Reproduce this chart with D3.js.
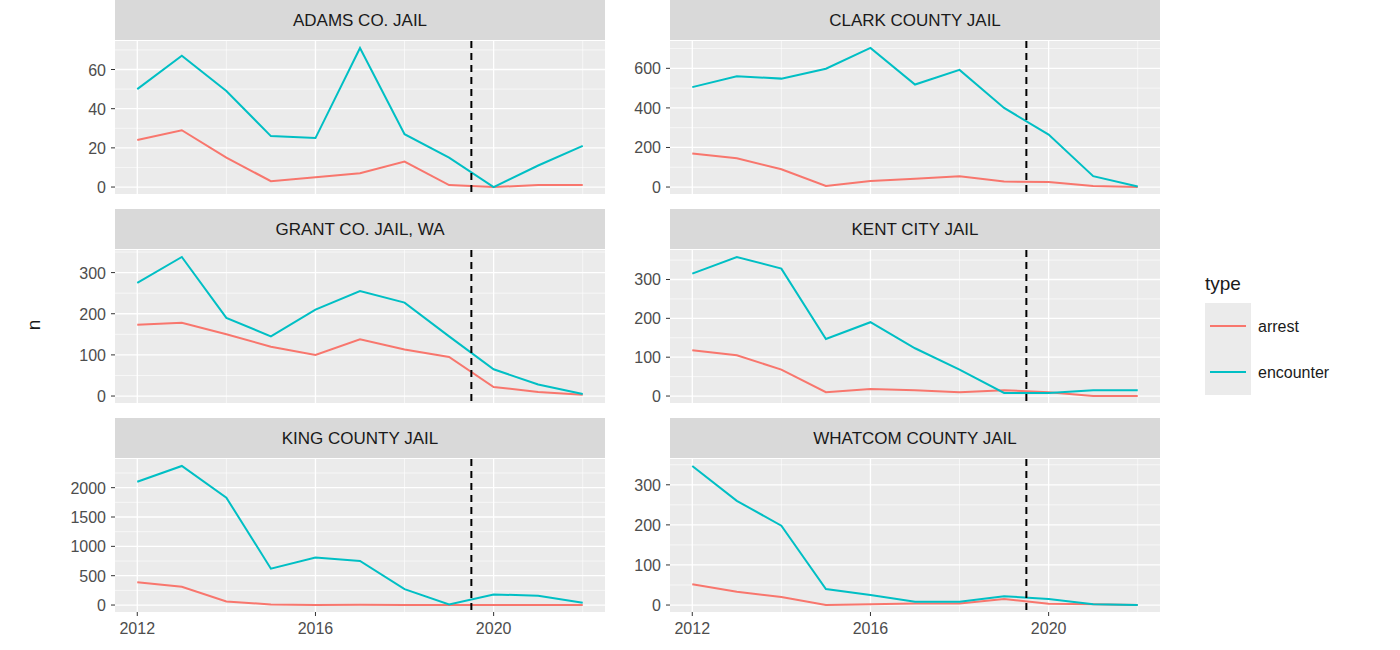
<!DOCTYPE html>
<html><head><meta charset="utf-8">
<script src="https://cdn.jsdelivr.net/npm/d3@7"></script>
<style>body{margin:0;background:#fff;font-family:"Liberation Sans",Arial,sans-serif;}</style>
</head><body><div id="chart"></div>
<script>
var years = d3.range(2012, 2023);

// values
var jails = [
  { name: "ADAMS CO. JAIL",
    encounter: [50, 67, 49, 26, 25, 71, 27, 15, 0, 11, 21],
    arrest: [24, 29, 15, 3, 5, 7, 13, 1, 0, 1, 1] },
  { name: "CLARK COUNTY JAIL",
    encounter: [505, 560, 548, 598, 703, 518, 592, 400, 265, 55, 3],
    arrest: [170, 145, 90, 5, 30, 42, 55, 28, 25, 5, 0] },
  { name: "GRANT CO. JAIL, WA",
    encounter: [275, 338, 190, 145, 210, 255, 227, 145, 65, 28, 5],
    arrest: [173, 178, 150, 120, 100, 138, 113, 95, 22, 10, 3] },
  { name: "KENT CITY JAIL",
    encounter: [315, 358, 328, 147, 190, 123, 68, 8, 8, 15, 15],
    arrest: [118, 105, 68, 10, 18, 15, 10, 15, 10, 0, 0] },
  { name: "KING COUNTY JAIL",
    encounter: [2100, 2370, 1830, 620, 810, 750, 270, 10, 180, 160, 40],
    arrest: [390, 310, 60, 10, 0, 5, 0, 0, 0, 0, 0] },
  { name: "WHATCOM COUNTY JAIL",
    encounter: [347, 260, 198, 40, 25, 8, 8, 22, 15, 2, 0],
    arrest: [52, 33, 20, 0, 2, 4, 4, 15, 3, 2, 0] }
];

var colors = { arrest: "#F8766D", encounter: "#00BFC4" };
var colX = [115, 670], panelW = 490;
var rowTop = [0, 209, 418], stripH = 40, panelH = 153;

var svg = d3.select("#chart").append("svg").attr("width", 1400).attr("height", 650);

jails.forEach(function (j, i) {
  var col = i % 2, row = Math.floor(i / 2);
  var x0 = colX[col], top = rowTop[row];
  var g = svg.append("g").attr("transform", "translate(" + x0 + "," + (top + stripH + 1) + ")");

  // strip
  svg.append("rect").attr("x", x0).attr("y", top).attr("width", panelW).attr("height", stripH).attr("fill", "#d9d9d9");
  svg.append("text").attr("x", x0 + panelW / 2).attr("y", top + stripH / 2 + 6)
    .attr("text-anchor", "middle").attr("font-size", 17).attr("fill", "#1a1a1a").text(j.name);

  var x = d3.scaleLinear().domain([2011.5, 2022.5]).range([0, panelW]);
  var ymax = d3.max(j.encounter.concat(j.arrest));
  var y = d3.scaleLinear().domain([-ymax * 0.05, ymax * 1.05]).range([panelH, 0]);

  g.append("rect").attr("width", panelW).attr("height", panelH).attr("fill", "#ebebeb");

  var yt = y.ticks(4).filter(function (t) { return t >= 0; });
  var step = yt[1] - yt[0];
  var yMinor = d3.range(yt[0] - step / 2, ymax * 1.05, step).filter(function (t) { return t > y.domain()[0]; });
  var xt = [2012, 2016, 2020], xMinor = [2014, 2018, 2022];

  g.selectAll(".ymin").data(yMinor).enter().append("line")
    .attr("x1", 0).attr("x2", panelW).attr("y1", y).attr("y2", y).attr("stroke", "#fff").attr("stroke-width", 0.6);
  g.selectAll(".xmin").data(xMinor).enter().append("line")
    .attr("y1", 0).attr("y2", panelH).attr("x1", x).attr("x2", x).attr("stroke", "#fff").attr("stroke-width", 0.6);
  g.selectAll(".ymaj").data(yt).enter().append("line")
    .attr("x1", 0).attr("x2", panelW).attr("y1", y).attr("y2", y).attr("stroke", "#fff").attr("stroke-width", 1.3);
  g.selectAll(".xmaj").data(xt).enter().append("line")
    .attr("y1", 0).attr("y2", panelH).attr("x1", x).attr("x2", x).attr("stroke", "#fff").attr("stroke-width", 1.3);

  // y axis labels
  g.selectAll(".ylab").data(yt).enter().append("text")
    .attr("x", -9).attr("y", function (d) { return y(d) + 6; }).attr("text-anchor", "end")
    .attr("font-size", 16).attr("fill", "#4d4d4d").text(function (d) { return d; });
  g.selectAll(".ytk").data(yt).enter().append("line")
    .attr("x1", -4).attr("x2", 0).attr("y1", y).attr("y2", y).attr("stroke", "#333");

  if (row === 2) {
    g.selectAll(".xlab").data(xt).enter().append("text")
      .attr("x", x).attr("y", panelH + 22).attr("text-anchor", "middle")
      .attr("font-size", 16).attr("fill", "#4d4d4d").text(function (d) { return d; });
    g.selectAll(".xtk").data(xt).enter().append("line")
      .attr("x1", x).attr("x2", x).attr("y1", panelH).attr("y2", panelH + 4).attr("stroke", "#333");
  }

  var line = d3.line().x(function (d, k) { return x(years[k]); }).y(function (d) { return y(d); });
  ["arrest", "encounter"].forEach(function (t) {
    g.append("path").datum(j[t]).attr("d", line).attr("fill", "none")
      .attr("stroke", colors[t]).attr("stroke-width", 2);
  });

  g.append("line").attr("x1", x(2019.5)).attr("x2", x(2019.5)).attr("y1", 0).attr("y2", panelH)
    .attr("stroke", "#000").attr("stroke-width", 2).attr("stroke-dasharray", "7,5");
});

// y title
svg.append("text").attr("transform", "translate(40,325) rotate(-90)").attr("text-anchor", "middle")
  .attr("font-size", 19).attr("fill", "#1a1a1a").text("n");

// legend
svg.append("text").attr("x", 1205).attr("y", 290).attr("font-size", 19).attr("fill", "#1a1a1a").text("type");
["arrest", "encounter"].forEach(function (t, k) {
  var yy = 303 + k * 46;
  svg.append("rect").attr("x", 1205).attr("y", yy).attr("width", 46).attr("height", 46).attr("fill", "#ebebeb");
  svg.append("line").attr("x1", 1210).attr("x2", 1246).attr("y1", yy + 23).attr("y2", yy + 23)
    .attr("stroke", colors[t]).attr("stroke-width", 2);
  svg.append("text").attr("x", 1258).attr("y", yy + 29).attr("font-size", 16).attr("fill", "#1a1a1a").text(t);
});
</script></body></html>
